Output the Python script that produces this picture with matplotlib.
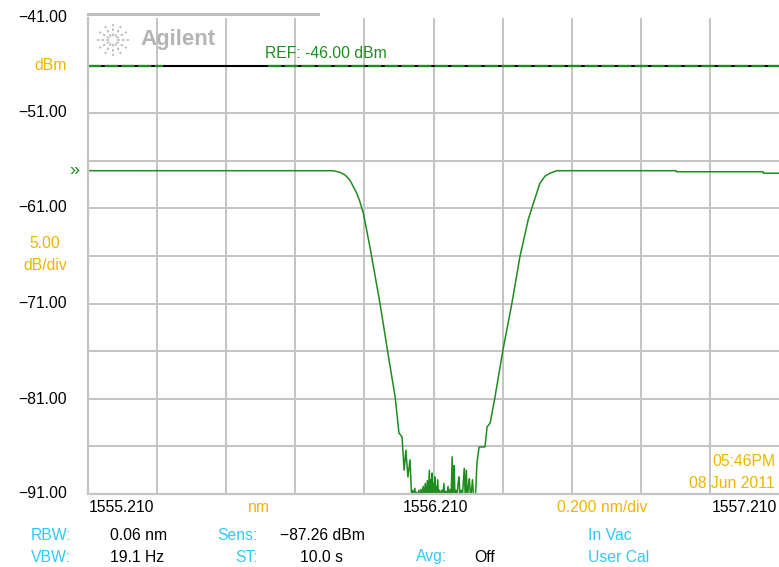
import matplotlib.pyplot as plt
import numpy as np

# ---- data (wavelength nm, power dBm)
wl_left = [1555.210, 1555.920, 1555.939, 1555.954, 1555.968, 1555.978, 1555.988,
           1555.997, 1556.007, 1556.026, 1556.055, 1556.078, 1556.099, 1556.110,
           1556.119, 1556.125, 1556.130, 1556.136, 1556.142]
p_left = [-57.04, -57.04, -57.21, -57.49, -58.02, -58.72, -59.41,
          -60.30, -61.51, -65.05, -70.94, -76.19, -80.81, -84.59,
          -85.01, -88.5, -86.4, -89.2, -87.4]

wl_floor = [1556.147, 1556.150, 1556.153, 1556.156, 1556.159, 1556.162, 1556.165,
            1556.168, 1556.171, 1556.174, 1556.177, 1556.180, 1556.183, 1556.186,
            1556.189, 1556.192, 1556.195, 1556.198, 1556.200, 1556.202, 1556.204,
            1556.206, 1556.208, 1556.210, 1556.212, 1556.214, 1556.216, 1556.218,
            1556.220, 1556.222, 1556.225, 1556.228, 1556.231, 1556.234, 1556.237,
            1556.240, 1556.243, 1556.246, 1556.249, 1556.252, 1556.255, 1556.258,
            1556.261, 1556.264, 1556.266, 1556.268, 1556.270, 1556.272, 1556.275,
            1556.278, 1556.281, 1556.284, 1556.287, 1556.290, 1556.293, 1556.296,
            1556.299, 1556.302, 1556.305, 1556.308, 1556.311, 1556.314, 1556.317,
            1556.320, 1556.323, 1556.326, 1556.331]
p_floor = [-91.5, -90.6, -91.5, -90.4, -91.5, -90.8, -91.5,
           -90.6, -91.5, -90.5, -91.5, -90.2, -91.5, -89.9,
           -91.5, -89.6, -91.2, -88.5, -91.5, -89.5, -91.0,
           -88.8, -91.5, -89.9, -90.8, -89.2, -91.5, -90.2,
           -91.5, -89.5, -91.5, -90.6, -91.5, -90.6, -91.5,
           -89.9, -91.5, -90.7, -91.5, -90.2, -91.5, -90.5,
           -91.5, -87.1, -91.5, -90.2, -88.0, -91.5, -90.6,
           -91.5, -89.9, -89.2, -91.5, -90.6, -91.5, -89.9,
           -88.3, -91.5, -88.5, -91.5, -90.2, -89.4, -91.5,
           -90.6, -89.5, -91.5, -91.5]

wl_right = [1556.336, 1556.342, 1556.359, 1556.365, 1556.374, 1556.388, 1556.411,
            1556.437, 1556.460, 1556.484, 1556.499, 1556.518, 1556.533, 1556.547,
            1556.567, 1556.912, 1556.913, 1557.164, 1557.165, 1557.210]
p_right = [-87.64, -86.06, -86.06, -83.96, -83.54, -80.81, -75.87,
           -70.94, -66.1, -62.2, -60.47, -58.36, -57.60, -57.31,
           -57.04, -57.04, -57.15, -57.15, -57.3, -57.3]

ref_level = -46.0
y_labels = ["-41.00", "-51.00", "-61.00", "-71.00", "-81.00", "-91.00"]
x_labels = ["1555.210", "1556.210", "1557.210"]

wl = np.array(wl_left + wl_floor + wl_right)
pw = np.array(p_left + p_floor + p_right)

W, H = 779, 567
plt.rcParams['font.family'] = ['Liberation Sans', 'DejaVu Sans']
fig = plt.figure(figsize=(W / 100, H / 100), dpi=100)
ax = fig.add_axes([88 / W, 1 - 494 / H, 691 / W, 476 / H])

def fx(x):
    return x / W

def fy(y):
    return 1 - y / H

green = '#1e8c1e'
orange = '#f0b400'
cyan = '#33c8f5'
grid = '#c4c4c4'
fs = 11.3

ax.set_xlim(1555.21, 1557.21)
ax.set_ylim(-91, -41)
ax.set_xticks(np.arange(1555.41, 1557.2, 0.2))
ax.set_yticks(np.arange(-86, -45, 5))
ax.grid(True, color=grid, lw=1.4)
ax.tick_params(length=0, labelbottom=False, labelleft=False)
for s in ['top', 'right']:
    ax.spines[s].set_visible(False)
for s in ['left', 'bottom']:
    ax.spines[s].set_color(grid)
    ax.spines[s].set_linewidth(1.6)

# reference line
ax.axhline(ref_level, color='black', lw=1.5)
ax.plot([1555.21, 1555.427], [ref_level, ref_level], color=green, lw=1.6,
        dashes=(6, 1.5))
ax.plot([1555.731, 1557.21], [ref_level, ref_level], color=green, lw=1.6,
        dashes=(6, 1.5))

# trace
ax.plot(wl, pw, color=green, lw=1.1)

# partial top bar
fig.add_artist(plt.Line2D([fx(88), fx(318)], [fy(13.5), fy(13.5)], color='#c0c0c0', lw=2.2))

# agilent logo
cx, cy = 113, 40
for a in np.arange(0, 360, 30):
    r0, r1 = 4, 16
    x0 = cx + r0 * np.cos(np.radians(a))
    y0 = cy + r0 * np.sin(np.radians(a))
    x1 = cx + r1 * np.cos(np.radians(a))
    y1 = cy + r1 * np.sin(np.radians(a))
    fig.add_artist(plt.Line2D([fx(x0), fx(x1)], [fy(y0), fy(y1)], color='#bdbdbd',
                              lw=1.3, ls=(0, (1.5, 1.2))))
fig.text(fx(140), fy(40), "Agilent", color='#b4b4b4', fontsize=16, fontweight='bold',
         va='center', ha='left')

fig.text(fx(265), fy(53), "REF: -46.00 dBm", color=green, fontsize=fs, va='center')

# y labels
for lab, y in zip(y_labels, [18, 113, 208, 304, 399, 494]):
    fig.text(fx(67), fy(y), lab.replace('-', '\u2212'), fontsize=fs, ha='right', va='center')
fig.text(fx(67), fy(66), "dBm", color=orange, fontsize=fs, ha='right', va='center')
fig.text(fx(60), fy(244), "5.00", color=orange, fontsize=fs, ha='right', va='center')
fig.text(fx(67), fy(266), "dB/div", color=orange, fontsize=fs, ha='right', va='center')
fig.text(fx(74), fy(171), "\u00bb", color=green, fontsize=13, ha='center', va='center')

# x labels
fig.text(fx(89), fy(508), x_labels[0], fontsize=fs, ha='left', va='center')
fig.text(fx(435), fy(508), x_labels[1], fontsize=fs, ha='center', va='center')
fig.text(fx(777), fy(508), x_labels[2], fontsize=fs, ha='right', va='center')
fig.text(fx(259), fy(508), "nm", color=orange, fontsize=fs, ha='center', va='center')
fig.text(fx(602), fy(508), "0.200 nm/div", color=orange, fontsize=fs, ha='center', va='center')

# time stamp
fig.text(fx(775), fy(462), "05:46PM", color=orange, fontsize=fs, ha='right', va='center')
fig.text(fx(775), fy(484), "08 Jun 2011", color=orange, fontsize=fs, ha='right', va='center')

# settings rows
fig.text(fx(71), fy(535), "RBW:", color=cyan, fontsize=fs, ha='right', va='center')
fig.text(fx(110), fy(535), "0.06 nm", fontsize=fs, va='center')
fig.text(fx(258), fy(535), "Sens:", color=cyan, fontsize=fs, ha='right', va='center')
fig.text(fx(280), fy(535), "\u221287.26 dBm", fontsize=fs, va='center')
fig.text(fx(588), fy(535), "In Vac", color=cyan, fontsize=fs, va='center')
fig.text(fx(71), fy(557), "VBW:", color=cyan, fontsize=fs, ha='right', va='center')
fig.text(fx(110), fy(557), "19.1 Hz", fontsize=fs, va='center')
fig.text(fx(258), fy(557), "ST:", color=cyan, fontsize=fs, ha='right', va='center')
fig.text(fx(300), fy(557), "10.0 s", fontsize=fs, va='center')
fig.text(fx(447), fy(557), "Avg:", color=cyan, fontsize=fs, ha='right', va='center')
fig.text(fx(474), fy(557), "Off", fontsize=fs, va='center')
fig.text(fx(588), fy(557), "User Cal", color=cyan, fontsize=fs, va='center')

fig.savefig("out.png", dpi=100)
